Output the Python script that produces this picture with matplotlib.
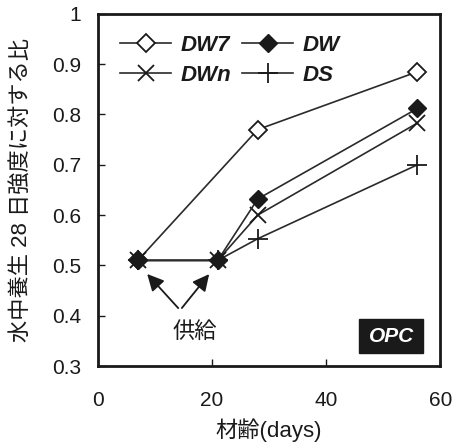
import matplotlib
matplotlib.use('Agg')
import matplotlib.pyplot as plt
from matplotlib.patches import Rectangle

plt.rcParams['font.family'] = ['Liberation Sans', 'Noto Sans CJK JP']

days = [7, 21, 28, 56]
dw7_days = [7, 28, 56]
dw7 = [0.51, 0.77, 0.885]
dw = [0.51, 0.51, 0.632, 0.812]
dwn = [0.51, 0.51, 0.60, 0.783]
ds = [0.51, 0.51, 0.553, 0.70]

ink = '#1a1a1a'
line = '#2a2a2a'

fig = plt.figure(figsize=(4.6, 4.48), dpi=100)
ax = fig.add_axes([0.213, 0.183, 0.744, 0.786])

l_dw7, = ax.plot(dw7_days, dw7, color=line, lw=1.2, marker='D', ms=9.5, mfc='white', mec=ink, mew=1.3, label='DW7', zorder=3)
l_dw, = ax.plot(days, dw, color=line, lw=1.2, marker='D', ms=9.5, mfc=ink, mec=ink, label='DW', zorder=4)
l_dwn, = ax.plot(days, dwn, color=line, lw=1.2, marker='x', ms=12, mew=1.3, mec=ink, label='DWn', zorder=3)
l_ds, = ax.plot(days, ds, color=line, lw=1.2, marker='+', ms=14, mew=1.3, mec=ink, label='DS', zorder=3)

ax.set_xlim(0, 60)
ax.set_ylim(0.3, 1.0)
ax.set_xticks([0, 20, 40, 60])
ax.set_yticks([0.3, 0.4, 0.5, 0.6, 0.7, 0.8, 0.9, 1.0])
ax.set_yticklabels(['0.3', '0.4', '0.5', '0.6', '0.7', '0.8', '0.9', '1'])
ax.tick_params(direction='in', length=5, width=1, labelsize=15, colors=ink)
ax.tick_params(axis='y', pad=12)
ax.tick_params(axis='x', pad=18)
for s in ax.spines.values():
    s.set_linewidth(2)
    s.set_color(ink)

ax.set_xlabel('材齢(days)', fontsize=16, color=ink, labelpad=6)
ax.set_ylabel('水中養生 28 日強度に対する比', fontsize=16, color=ink, labelpad=15)

# supply arrows
for tip in [(8.3, 0.487), (19.8, 0.487)]:
    ax.annotate('', xy=tip, xytext=(14.4, 0.411),
                arrowprops=dict(arrowstyle='-|>,head_length=1.0,head_width=0.5', color=ink, lw=1.3))
ax.text(17, 0.366, '供給', fontsize=16, color=ink, ha='center', va='center')

ax.add_patch(Rectangle((0.763, 0.037), 0.187, 0.097, transform=ax.transAxes, fc=ink, ec=ink, zorder=5))
ax.text(0.857, 0.085, 'OPC', transform=ax.transAxes, fontsize=15, fontweight='bold', fontstyle='italic',
        color='white', ha='center', va='center', zorder=6)

leg = ax.legend([l_dw7, l_dwn, l_dw, l_ds], ['DW7', 'DWn', 'DW', 'DS'],
                ncol=2, loc='upper left', frameon=False, fontsize=16, handlelength=2.3,
                columnspacing=0.5, handletextpad=0.4, borderaxespad=0.3, labelspacing=0.4,
                bbox_to_anchor=(0.02, 0.985))
for t in leg.get_texts():
    t.set_fontweight('bold')
    t.set_fontstyle('italic')
    t.set_color(ink)

fig.savefig('out.png', dpi=100)
